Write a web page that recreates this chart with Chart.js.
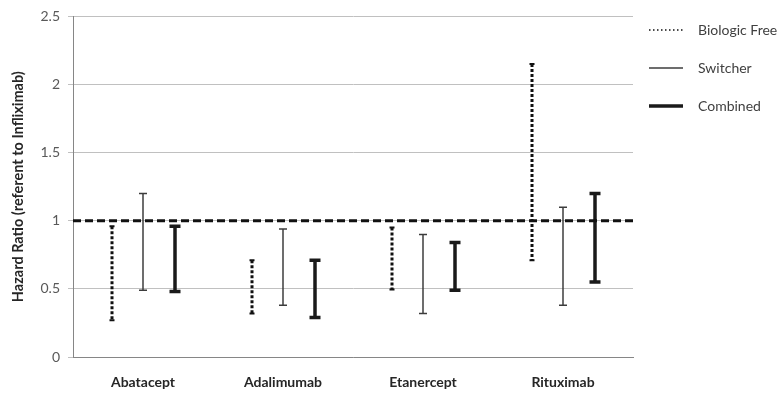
<!DOCTYPE html>
<html lang="en">
<head>
    <meta charset="UTF-8">
    <title>Hazard Ratio</title>
    <script src="https://cdn.jsdelivr.net/npm/chart.js"></script>
    <style>
        body { margin: 0; background: #fff; }
        canvas { display: block; }
    </style>
</head>
<body>
    <canvas id="hrChart" width="778" height="397"></canvas>
    <script>
        // data
        const drugs = ['Abatacept', 'Adalimumab', 'Etanercept', 'Rituximab'];
        const biologicFreeLow = [0.27, 0.32, 0.495, 0.71];
        const biologicFreeHigh = [0.96, 0.71, 0.95, 2.15];
        const switcherLow = [0.49, 0.38, 0.32, 0.38];
        const switcherHigh = [1.2, 0.94, 0.9, 1.1];
        const combinedLow = [0.48, 0.29, 0.49, 0.55];
        const combinedHigh = [0.96, 0.71, 0.84, 1.2];
        const yTicks = [0, 0.5, 1, 1.5, 2, 2.5];
        const referenceLine = 1;

        const fontFamily = 'Lato, "Open Sans", sans-serif';

        // how each series is stroked (used by the whisker plugin and the legend)
        const seriesStyles = [
            { label: 'Biologic Free', color: '#111', width: 3, dash: [3, 2], cap: 5 },
            { label: 'Switcher', color: '#3c3c3c', width: 1.5, dash: [], cap: 8 },
            { label: 'Combined', color: '#1a1a1a', width: 3.5, dash: [], cap: 11 }
        ];

        const pairs = (lo, hi) => lo.map((v, i) => [v, hi[i]]);

        // draws each floating bar as a whisker with caps
        const whiskerPlugin = {
            id: 'whiskers',
            afterDatasetsDraw(chart) {
                const ctx = chart.ctx;
                chart.data.datasets.forEach((ds, di) => {
                    const st = seriesStyles[di];
                    const meta = chart.getDatasetMeta(di);
                    meta.data.forEach(el => {
                        const x = Math.round(el.x);
                        const top = Math.min(el.y, el.base);
                        const bot = Math.max(el.y, el.base);
                        ctx.save();
                        ctx.strokeStyle = st.color;
                        ctx.lineWidth = st.width;
                        ctx.setLineDash(st.dash);
                        ctx.beginPath();
                        ctx.moveTo(x, top);
                        ctx.lineTo(x, bot);
                        ctx.stroke();
                        ctx.setLineDash([]);
                        ctx.lineWidth = st.dash.length ? 2 : st.width;
                        ctx.beginPath();
                        ctx.moveTo(x - st.cap / 2, top);
                        ctx.lineTo(x + st.cap / 2, top);
                        ctx.moveTo(x - st.cap / 2, bot);
                        ctx.lineTo(x + st.cap / 2, bot);
                        ctx.stroke();
                        ctx.restore();
                    });
                });

                // dashed reference line at HR = 1
                const y = chart.scales.y.getPixelForValue(referenceLine);
                const area = chart.chartArea;
                ctx.save();
                ctx.strokeStyle = '#111';
                ctx.lineWidth = 3;
                ctx.setLineDash([8, 4]);
                ctx.beginPath();
                ctx.moveTo(area.left, y);
                ctx.lineTo(area.right, y);
                ctx.stroke();
                ctx.restore();
            }
        };

        // legend on the right, with line swatches
        const sideLegend = {
            id: 'sideLegend',
            afterDraw(chart) {
                const ctx = chart.ctx;
                const x0 = chart.chartArea.right + 16;
                const ys = [30, 68, 106];
                seriesStyles.forEach((st, i) => {
                    ctx.save();
                    ctx.strokeStyle = st.color;
                    ctx.lineWidth = st.dash.length ? 1.5 : st.width;
                    ctx.setLineDash(st.dash.length ? [1.5, 2.5] : []);
                    ctx.beginPath();
                    ctx.moveTo(x0, ys[i]);
                    ctx.lineTo(x0 + 34, ys[i]);
                    ctx.stroke();
                    ctx.setLineDash([]);
                    ctx.fillStyle = '#404040';
                    ctx.font = '14px ' + fontFamily;
                    ctx.textBaseline = 'middle';
                    ctx.fillText(st.label, x0 + 49, ys[i]);
                    ctx.restore();
                });
            }
        };

        const ctx = document.getElementById('hrChart').getContext('2d');
        new Chart(ctx, {
            type: 'bar',
            data: {
                labels: drugs,
                datasets: [
                    { label: 'Biologic Free', data: pairs(biologicFreeLow, biologicFreeHigh) },
                    { label: 'Switcher', data: pairs(switcherLow, switcherHigh) },
                    { label: 'Combined', data: pairs(combinedLow, combinedHigh) }
                ].map(ds => Object.assign(ds, {
                    backgroundColor: 'rgba(0,0,0,0)',
                    borderWidth: 0,
                    categoryPercentage: 0.675,
                    barPercentage: 0.3
                }))
            },
            options: {
                responsive: false,
                animation: false,
                events: [],
                layout: { padding: { left: 3, right: 145, top: 1, bottom: 0 } },
                plugins: {
                    legend: { display: false },
                    tooltip: { enabled: false }
                },
                scales: {
                    x: {
                        afterFit(scale) { scale.height = 40; },
                        grid: { display: false, drawTicks: false },
                        border: { color: '#868686' },
                        ticks: {
                            color: '#262626',
                            padding: 17,
                            maxRotation: 0,
                            font: { family: fontFamily, size: 14, weight: 'bold' }
                        }
                    },
                    y: {
                        min: 0,
                        max: 2.5,
                        afterFit(scale) { scale.width = 70; },
                        afterBuildTicks(scale) {
                            scale.ticks = yTicks.map(v => ({ value: v }));
                        },
                        grid: { color: '#c0c0c0', tickLength: 5 },
                        border: { color: '#868686' },
                        ticks: {
                            color: '#595959',
                            padding: 8,
                            callback: v => String(v),
                            font: { family: fontFamily, size: 14 }
                        },
                        title: {
                            display: true,
                            text: 'Hazard Ratio (referent to Infliximab)',
                            color: '#262626',
                            padding: { top: 7, bottom: 10 },
                            font: { family: fontFamily, size: 14.5, weight: 'bold' }
                        }
                    }
                }
            },
            plugins: [whiskerPlugin, sideLegend]
        });
    </script>
</body>
</html>
